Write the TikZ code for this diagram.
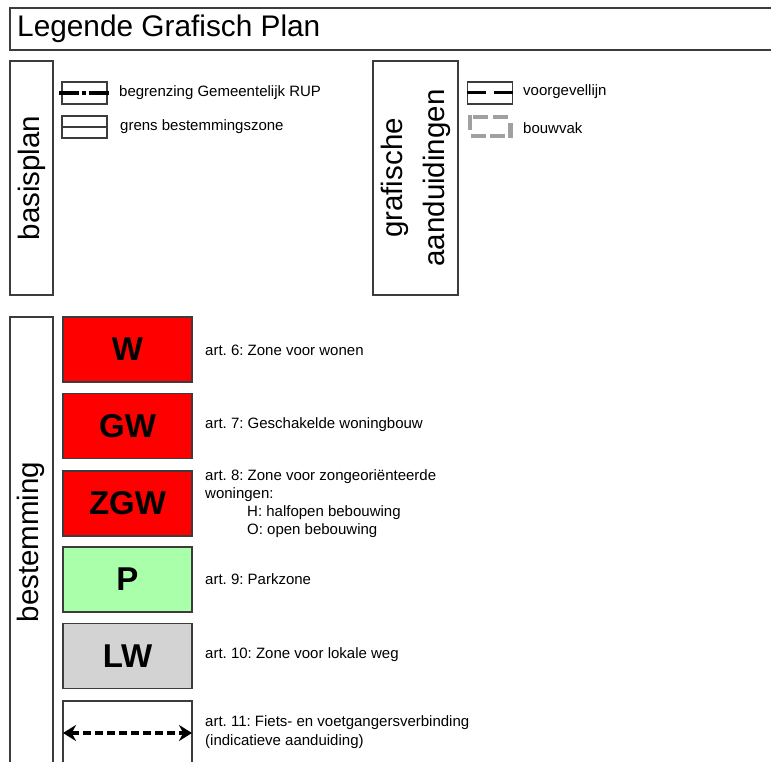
\documentclass[tikz,border=0pt]{standalone}
\usepackage{fontspec}
\setmainfont{Liberation Sans}
\usetikzlibrary{arrows.meta}
\frenchspacing
\definecolor{frame}{RGB}{60,60,60}
\definecolor{zonered}{RGB}{255,0,0}
\definecolor{zonegreen}{RGB}{170,255,170}
\definecolor{zonegray}{RGB}{211,211,211}
\definecolor{bvgray}{RGB}{160,160,160}
\tikzset{
  framebox/.style={draw=frame, line width=1.3pt},
  zonebox/.style={draw=frame, line width=1.3pt, minimum width=129pt, minimum height=65pt, inner sep=0pt, font=\fontsize{33}{38}\selectfont\bfseries},
  symbox/.style={draw=frame, line width=1.1pt, minimum width=45pt, minimum height=22pt, inner sep=0pt},
  smalltext/.style={anchor=west, inner sep=0pt, font=\fontsize{15}{18}\selectfont\frenchspacing, align=left},
  headtext/.style={rotate=90, inner sep=0pt, font=\fontsize{29.5}{42}\selectfont, align=center},
  bvdash/.style={draw=bvgray, line width=4.5pt}
}
\begin{document}
\begin{tikzpicture}[x=1pt,y=-1pt]
\useasboundingbox (0,0) rectangle (771,762);
% title
\draw[framebox] (10,8) rectangle (790,50);
\node[anchor=west, inner sep=0pt, font=\fontsize{29.8}{34}\selectfont] (title) at (17,29) {Legende Grafisch Plan};
% basisplan
\draw[framebox] (10,61) rectangle (53,295);
\node[headtext] (basis) at (32,178) {basisplan};
\node[symbox] (rup) at (84.5,93) {};
\draw[black, line width=4pt, dash pattern=on 20pt off 3pt on 4pt off 3pt on 20pt off 10pt] ([xshift=-2pt]rup.west) -- ([xshift=3pt]rup.east);
\node[smalltext] (ruptxt) at (119,93) {begrenzing Gemeentelijk RUP};
\node[symbox] (grens) at (84.5,127) {};
\draw[frame, line width=1.1pt] (grens.west) -- (grens.east);
\node[smalltext] (grenstxt) at (120,127) {grens bestemmingszone};
% grafische aanduidingen
\draw[framebox] (373,61) rectangle (458,295);
\node[headtext] (graf) at (416,178) {grafische\\aanduidingen};
\node[symbox] (vgl) at (490,93) {};
\draw[black, line width=3pt, dash pattern=on 19pt off 8pt on 20pt] (vgl.west) -- (vgl.east);
\node[smalltext] (vgltxt) at (523,92) {voorgevellijn};
\draw[bvdash] (473,117) -- (488,117);
\draw[bvdash] (493,117) -- (508,117);
\draw[bvdash] (470,115) -- (470,130);
\draw[bvdash] (510.5,123) -- (510.5,138);
\draw[bvdash] (471,136) -- (486,136);
\draw[bvdash] (490,136) -- (505,136);
\node[smalltext] (bvtxt) at (523,128) {bouwvak};
% bestemming
\draw[framebox] (10,317) rectangle (53,790);
\node[headtext] (best) at (31,542) {bestemming};
\node[zonebox, fill=zonered] (w) at (127.5,349.5) {W};
\node[smalltext] (wtxt) at (205,350) {art. 6: Zone voor wonen};
\node[zonebox, fill=zonered] (gw) at (127.5,426) {GW};
\node[smalltext] (gwtxt) at (205,425) {art. 7: Geschakelde woningbouw};
\node[zonebox, fill=zonered] (zgw) at (127.5,503.5) {ZGW};
\node[smalltext, anchor=north west] (zgwtxt) at (205,469) {art. 8: Zone voor zongeoriënteerde\\woningen:\\\hspace*{42pt}H: halfopen bebouwing\\\hspace*{42pt}O: open bebouwing};
\node[zonebox, fill=zonegreen] (p) at (127.5,579.5) {P};
\node[smalltext] (ptxt) at (205,579) {art. 9: Parkzone};
\node[zonebox, fill=zonegray] (lw) at (127.5,656) {LW};
\node[smalltext] (lwtxt) at (205,655) {art. 10: Zone voor lokale weg};
\node[zonebox, fill=white, minimum height=90pt] (fv) at (127.5,746) {};
\coordinate (fvl) at (63,733);
\coordinate (fvr) at (192,733);
\draw[black, line width=3.5pt, dash pattern=on 8pt off 4pt, {Stealth[length=13pt,width=16pt]}-{Stealth[length=13pt,width=16pt]}] (fvl) -- (fvr);
\node[smalltext, font=\fontsize{15}{19}\selectfont\frenchspacing] (fvtxt) at (205,732.5) {art. 11: Fiets- en voetgangersverbinding\\(indicatieve aanduiding)};
\end{tikzpicture}
\end{document}
